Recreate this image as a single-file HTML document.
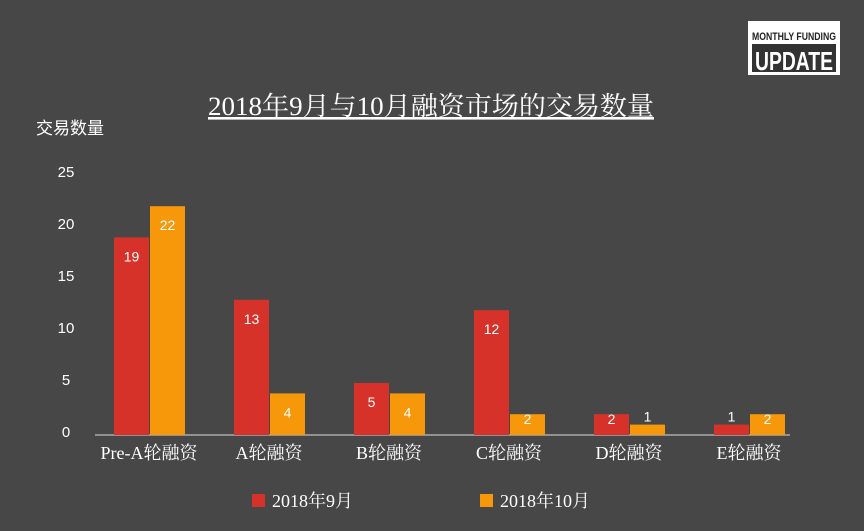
<!DOCTYPE html>
<html><head><meta charset="utf-8"><style>
body{margin:0;background:#474747;}
#c{position:relative;width:864px;height:531px;background:#474747;overflow:hidden;font-family:"Liberation Sans","Noto Sans CJK SC",sans-serif;}
</style></head><body>
<div id="c">
<svg width="864" height="531" id="svg">
<g>
<rect x="748" y="21" width="92" height="54" fill="#fff"/>
<rect x="752" y="44" width="84" height="28" fill="#333"/>
<text x="752" y="40" font-size="11" font-weight="bold" fill="#222" textLength="84" lengthAdjust="spacingAndGlyphs">MONTHLY FUNDING</text>
<text x="755" y="70" font-size="26" font-weight="bold" fill="#fff" textLength="78" lengthAdjust="spacingAndGlyphs">UPDATE</text>
</g>
<text x="208" y="115" font-size="26" fill="#fff" textLength="446" lengthAdjust="spacingAndGlyphs" text-decoration="underline" font-family="Liberation Serif, Noto Serif CJK SC, serif">2018年9月与10月融资市场的交易数量</text>
<text x="36" y="134" font-size="17" fill="#fff">交易数量</text>
<g id="g"></g>
<g>
<rect x="252" y="494" width="13" height="13" fill="#d7322a"/>
<text x="272" y="507" font-size="18" fill="#fff" font-family="Liberation Serif, Noto Serif CJK SC, serif">2018年9月</text>
<rect x="480" y="494" width="13" height="13" fill="#f7980b"/>
<text x="500" y="507" font-size="18" fill="#fff" font-family="Liberation Serif, Noto Serif CJK SC, serif">2018年10月</text>
</g>
</svg>
</div>
<script>
const categories=["Pre-A轮融资","A轮融资","B轮融资","C轮融资","D轮融资","E轮融资"];
const sep=[19,13,5,12,2,1];
const oct=[22,4,4,2,1,2];
const ticks=[0,5,10,15,20,25];
const NS="http://www.w3.org/2000/svg";
const g=document.getElementById('g');
const base=435, unit=10.4;
const y=v=>base-v*unit;
const gx=i=>114+i*120;
function el(t,a){const e=document.createElementNS(NS,t);for(const k in a)e.setAttribute(k,a[k]);g.appendChild(e);return e;}
ticks.forEach(t=>{const e=el('text',{x:66,y:y(t)+2,'font-size':15,fill:'#fff','text-anchor':'middle'});e.textContent=t;

});
const ax=el('line',{x1:95,y1:base,x2:790,y2:base,stroke:'#aaa','stroke-width':1.5});


categories.forEach((c,i)=>{
 [[sep,'#d7322a',0,'sep'],[oct,'#f7980b',36,'oct']].forEach(([arr,col,off,nm])=>{
  const v=arr[i];
  const r=el('rect',{x:gx(i)+off,y:y(v),width:35,height:v*unit,fill:col});
  
  
  const t=el('text',{x:gx(i)+off+17.5,y:y(v)+24,'font-size':14,fill:'#fff','text-anchor':'middle'});
  t.textContent=v;
  
  
  if(v*unit<26){t.setAttribute('y',y(v)-3+ (v*unit>12?13:0));}
 });
 const l=el('text',{x:gx(i)+35,y:459,'font-size':18,fill:'#fff','text-anchor':'middle','font-family':'Liberation Serif, Noto Serif CJK SC, serif'});
 l.textContent=c;
 
 
});
</script>
</body></html>
